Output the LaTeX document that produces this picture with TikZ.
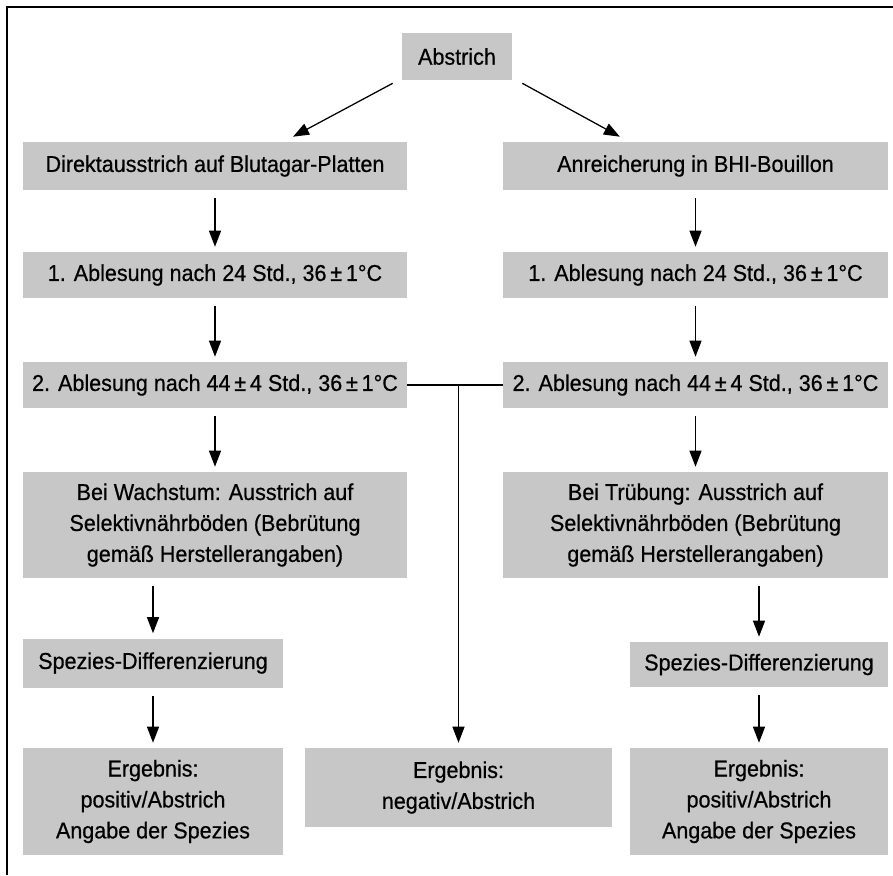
\documentclass[tikz,border=0pt]{standalone}
\usepackage{fontspec}
\setmainfont[FakeStretch=0.94, FakeBold=0.6]{Liberation Sans}
\usetikzlibrary{arrows.meta}

\begin{document}
\begin{tikzpicture}[x=0.025cm, y=-0.025cm,
  box/.style={fill=black!22, inner sep=0pt, align=center, font=\fontsize{16.3}{22}\selectfont},
  arr/.style={-{Triangle[length=0.4cm,width=0.3cm]}, line width=0.9pt, shorten <=0.2cm, shorten >=0.125cm}]

  \useasboundingbox (0,0) rectangle (893,875);

  %frame:
  \draw[line width=1.6pt] (7,875) -- (7,7) -- (893,7);

  %top:
  \node[box, minimum width=2.75cm, minimum height=1.175cm] (abstrich) at (457,56.5) {Abstrich};

  %left column:
  \node[box, minimum width=9.6cm, minimum height=1.2cm] (direkt) at (215,166) {Direktausstrich auf Blutagar-Platten};
  \node[box, minimum width=9.6cm, minimum height=1.15cm] (ablesA1) at (215,275) {1. Ablesung nach 24 Std., 36\,±\,1°C};
  \node[box, minimum width=9.6cm, minimum height=1.15cm] (ablesA2) at (215,385) {2. Ablesung nach 44\,±\,4 Std., 36\,±\,1°C};
  \node[box, minimum width=9.6cm, minimum height=2.65cm] (wachstum) at (215,525)
       {Bei Wachstum: Ausstrich auf\\Selektivnährböden (Bebrütung\\gemäß Herstellerangaben)};
  \node[box, minimum width=6.5cm, minimum height=1.225cm] (speziesA) at (153,663) {Spezies-Differenzierung};
  \node[box, minimum width=6.5cm, minimum height=2.675cm] (ergA) at (153,801.5)
       {Ergebnis:\\positiv/Abstrich\\Angabe der Spezies};

  %right column:
  \node[box, minimum width=9.625cm, minimum height=1.2cm] (anreich) at (695.5,166) {Anreicherung in BHI-Bouillon};
  \node[box, minimum width=9.625cm, minimum height=1.15cm] (ablesB1) at (695.5,275) {1. Ablesung nach 24 Std., 36\,±\,1°C};
  \node[box, minimum width=9.625cm, minimum height=1.15cm] (ablesB2) at (695.5,385) {2. Ablesung nach 44\,±\,4 Std., 36\,±\,1°C};
  \node[box, minimum width=9.625cm, minimum height=2.65cm] (truebung) at (695.5,525)
       {Bei Trübung: Ausstrich auf\\Selektivnährböden (Bebrütung\\gemäß Herstellerangaben)};
  \node[box, minimum width=6.45cm, minimum height=1.125cm] (speziesB) at (759,664.5) {Spezies-Differenzierung};
  \node[box, minimum width=6.45cm, minimum height=2.675cm] (ergB) at (759,801.5)
       {Ergebnis:\\positiv/Abstrich\\Angabe der Spezies};

  %middle:
  \node[box, minimum width=7.675cm, minimum height=1.975cm] (ergNeg) at (458.5,787.5)
       {Ergebnis:\\negativ/Abstrich};

  %arrows:
  \draw[arr, shorten <=0pt, shorten >=0pt] ([xshift=-0.225cm,yshift=-0.075cm]abstrich.south west) -- ([xshift=1.95cm,yshift=0.125cm]direkt.north);
  \draw[arr, shorten <=0pt, shorten >=0pt] ([xshift=0.25cm,yshift=-0.075cm]abstrich.south east) -- ([xshift=-1.89cm,yshift=0.125cm]anreich.north);

  \draw[arr] (direkt) -- (ablesA1);
  \draw[arr] (ablesA1) -- (ablesA2);
  \draw[arr] (ablesA2) -- (wachstum);
  \draw[arr] (speziesA |- wachstum.south) -- (speziesA.north);
  \draw[arr] (speziesA) -- (ergA);

  \draw[arr] (anreich) -- (ablesB1);
  \draw[arr] (ablesB1) -- (ablesB2);
  \draw[arr] (ablesB2) -- (truebung);
  \draw[arr] (speziesB |- truebung.south) -- (speziesB.north);
  \draw[arr] (speziesB) -- (ergB);

  %negative:
  \draw[line width=0.9pt] (ablesA2.east) -- (ablesB2.west);
  \draw[arr, shorten <=0pt] (ergNeg.north |- ablesA2.east) -- (ergNeg.north);
\end{tikzpicture}
\end{document}
